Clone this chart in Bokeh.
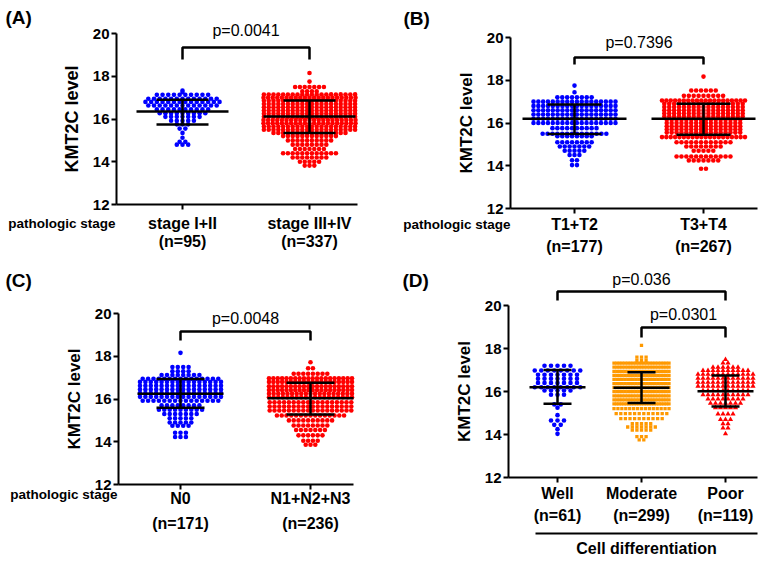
from bokeh.plotting import figure
from bokeh.models import Range1d, FixedTicker, LinearAxis
from bokeh.layouts import row, column
from bokeh.embed import file_html
from bokeh.resources import INLINE
from bokeh.core.properties import value

FONT = "Liberation Sans"
BLUE = "#0000FF"
RED = "#FF0000"
ORANGE = "#FF9900"

y_ticks = [12, 14, 16, 18, 20]

# ---------------- Panel A ----------------
a_labels = ["stage I+II", "stage III+IV"]
a_n = [95, 337]
a1_levels = [17.33, 17.25, 17.13, 16.95, 16.8, 16.63, 16.45, 16.27, 16.1, 15.92, 15.75, 15.55, 15.35, 15.12, 14.93, 14.8]
a1_counts = [1, 1, 10, 13, 14, 13, 10, 9, 7, 5, 3, 2, 1, 1, 2, 3]
a2_levels = [18.15, 17.75, 17.5, 17.3, 17.15, 17.0, 16.85, 16.7, 16.55, 16.4, 16.25, 16.1, 15.95, 15.8, 15.65, 15.5, 15.35, 15.2, 15.0, 14.8, 14.6, 14.4, 14.2, 14.0, 13.82]
a2_counts = [1, 1, 7, 4, 20, 21, 20, 20, 20, 20, 20, 20, 21, 21, 20, 20, 16, 12, 10, 8, 7, 12, 8, 5, 3]
a_mean = [16.35, 16.12]
a_sd_hi = [16.9, 16.87]
a_sd_lo = [15.74, 15.34]
a_pvals = ["p=0.0041"]

# ---------------- Panel B ----------------
b_labels = ["T1+T2", "T3+T4"]
b_n = [177, 267]
b1_levels = [17.75, 17.44, 17.2, 17.0, 16.8, 16.6, 16.4, 16.2, 16.0, 15.76, 15.5, 15.38, 15.1, 14.9, 14.7, 14.5, 14.26, 14.03]
b1_counts = [1, 1, 8, 18, 18, 18, 18, 18, 18, 10, 14, 8, 8, 7, 5, 3, 2, 2]
b2_levels = [18.17, 17.52, 17.27, 17.05, 16.9, 16.75, 16.6, 16.45, 16.3, 16.15, 16.0, 15.85, 15.7, 15.55, 15.34, 15.1, 14.9, 14.7, 14.43, 14.25, 13.86]
b2_counts = [1, 6, 9, 20, 17, 17, 17, 17, 17, 16, 16, 16, 16, 16, 20, 12, 8, 5, 12, 7, 2]
b_mean = [16.2, 16.2]
b_sd_hi = [16.87, 16.9]
b_sd_lo = [15.49, 15.45]
b_pvals = ["p=0.7396"]

# ---------------- Panel C ----------------
c_labels = ["N0", "N1+N2+N3"]
c_n = [171, 236]
c1_levels = [18.16, 17.5, 17.3, 17.12, 16.95, 16.8, 16.62, 16.45, 16.28, 16.1, 15.92, 15.7, 15.5, 15.3, 15.1, 14.9, 14.75, 14.42, 14.22]
c1_counts = [1, 4, 4, 8, 15, 16, 16, 16, 16, 16, 15, 8, 9, 7, 5, 5, 4, 3, 3]
c2_levels = [17.72, 17.44, 17.18, 16.97, 16.8, 16.6, 16.42, 16.25, 16.08, 15.85, 15.65, 15.46, 15.23, 15.0, 14.76, 14.55, 14.3, 14.05, 13.86]
c2_counts = [1, 2, 8, 20, 20, 20, 20, 19, 19, 18, 18, 18, 15, 10, 8, 7, 6, 4, 3]
c_mean = [16.24, 16.04]
c_sd_hi = [16.94, 16.76]
c_sd_lo = [15.59, 15.27]
c_pvals = ["p=0.0048"]

# ---------------- Panel D ----------------
d_labels = ["Well", "Moderate", "Poor"]
d_n = [61, 299, 119]
d1_levels = [17.2, 16.98, 16.78, 16.59, 16.4, 16.2, 16.05, 15.85, 15.4, 15.25, 14.9, 14.65, 14.45, 14.25, 14.03]
d1_counts = [5, 8, 7, 7, 7, 8, 5, 3, 2, 1, 1, 3, 2, 1, 1]
d2_levels = [18.15, 17.6, 17.45, 17.32, 17.13, 16.94, 16.75, 16.56, 16.37, 16.18, 15.99, 15.8, 15.61, 15.42,
             15.2, 14.97, 14.74, 14.5, 14.35, 14.2, 13.9, 13.75]
d2_counts = [1, 3, 3, 21, 21, 21, 21, 21, 21, 21, 21, 21, 21, 23, 15, 12, 10, 5, 7, 5, 3, 2]
d3_levels = [17.49, 17.33, 17.13, 16.98, 16.8, 16.62, 16.43, 16.25, 16.05, 15.85, 15.65, 15.45, 15.25, 14.95, 14.7, 14.5, 14.3, 14.03]
d3_counts = [1, 2, 6, 10, 12, 12, 12, 12, 10, 10, 8, 7, 5, 4, 3, 2, 2, 1]
d_mean = [16.2, 16.17, 16.01]
d_sd_hi = [17.0, 16.9, 16.74]
d_sd_lo = [15.43, 15.46, 15.3]
d_pvals = ["p=0.036", "p=0.0301"]
d_axis_title = "Cell differentiation"


def make_panel(tag, labels, ns, groups, means, hi, lo, pvals, brackets, L):
    w, h = L["w"], L["h"]
    xppu = L["x_ppu"]
    yppu = (L["y12"] - L["y20"]) / 8.0
    x0 = 1 - (L["x_first"] - L["px0"]) / xppu
    y1 = 20 + (L["y20"] - L["py0"]) / yppu

    def X(px):
        return x0 + (px - L["px0"]) / xppu

    def Y(py):
        return y1 - (py - L["py0"]) / yppu

    p = figure(width=w, height=h, x_range=Range1d(x0, x0 + w / xppu),
               y_range=Range1d(y1 - h / yppu, y1), output_backend="svg",
               toolbar_location=None, x_axis_type=None, y_axis_type=None,
               min_border=0)
    p.outline_line_color = None
    p.background_fill_color = "white"

    k = len(labels)
    yax = LinearAxis(fixed_location=X(L["axis_x"]), bounds=(12, 20),
                     ticker=FixedTicker(ticks=y_ticks))
    yax.axis_label = "KMT2C level"
    yax.axis_label_text_font = FONT
    yax.axis_label_text_font_style = "bold"
    yax.axis_label_text_color = "black"
    yax.axis_label_text_font_size = L["ylab_size"]
    yax.axis_label_standoff = L["ylab_standoff"]
    yax.major_label_text_font = FONT
    yax.major_label_text_font_style = "bold"
    yax.major_label_text_color = "black"
    yax.major_label_text_font_size = "15px"
    yax.major_label_standoff = 2
    yax.major_tick_in = 0
    yax.major_tick_out = 5
    yax.minor_tick_line_color = None
    yax.axis_line_width = 2
    yax.major_tick_line_width = 2
    yax.axis_line_color = "black"
    yax.major_tick_line_color = "black"
    p.add_layout(yax, "left")

    xax = LinearAxis(fixed_location=12, bounds=(X(L["axis_x"]), X(L["x_right"])),
                     ticker=FixedTicker(ticks=list(range(1, k + 1))))
    xax.major_label_overrides = {i + 1: f"{labels[i]}\n(n={ns[i]})" for i in range(k)}
    xax.major_label_text_font = FONT
    xax.major_label_text_font_style = "bold"
    xax.major_label_text_color = "black"
    xax.major_label_text_font_size = "16px"
    xax.major_label_text_line_height = L["xlab_lh"]
    xax.major_label_standoff = L["xlab_standoff"]
    xax.major_tick_in = 0
    xax.major_tick_out = 5
    xax.minor_tick_line_color = None
    xax.axis_line_width = 2
    xax.major_tick_line_width = 2
    xax.axis_line_color = "black"
    xax.major_tick_line_color = "black"
    p.add_layout(xax, "below")

    # swarm dots
    for gi, (levels, counts, color, marker, size, step, maxw) in enumerate(groups):
        gx = gi + 1
        xs, ys = [], []
        for lv, c in zip(levels, counts):
            s = min(step, maxw / (c - 1)) if c > 1 else 0
            for i in range(c):
                xs.append(gx + (i - (c - 1) / 2.0) * s / xppu)
                ys.append(lv)
        p.scatter(x=xs, y=ys, marker=marker, size=size, fill_color=color,
                  line_color=None)

    # mean and SD
    hm = L["mean_hw"] / xppu
    hc = L["cap_hw"] / xppu
    gxs = list(range(1, k + 1))
    p.segment(x0=[g - hm for g in gxs], y0=means, x1=[g + hm for g in gxs], y1=means,
              line_color="black", line_width=2.5)
    p.segment(x0=[g - hc for g in gxs] * 2, y0=hi + lo, x1=[g + hc for g in gxs] * 2,
              y1=hi + lo, line_color="black", line_width=2.5)
    p.segment(x0=gxs, y0=lo, x1=gxs, y1=hi, line_color="black", line_width=2.5)

    # brackets and p values
    for (ga, gb, top_py, leg_py, txt_py), ptxt in zip(brackets, pvals):
        p.line(x=[ga, ga, gb, gb], y=[Y(leg_py), Y(top_py), Y(top_py), Y(leg_py)],
               line_color="black", line_width=2.5)
        p.text(x=[(ga + gb) / 2.0], y=[Y(txt_py)], text=[ptxt], text_align="center",
               text_baseline="middle", text_font=value(FONT), text_font_size="16px",
               text_color="black")

    # panel tag
    p.text(x=[X(L["tag_px"])], y=[Y(L["tag_py"])], text=[tag], text_align="left",
           text_baseline="middle", text_font=value(FONT), text_font_style="bold",
           text_font_size="19px", text_color="black")
    if L.get("stage_py") is not None:
        p.text(x=[X(L["stage_px"])], y=[Y(L["stage_py"])], text=["pathologic stage"],
               text_align="right", text_baseline="middle", text_font=value(FONT),
               text_font_style="bold", text_font_size="13.5px", text_color="black")
    return p, X, Y


LA = dict(w=388, h=270, px0=0, py0=0, x_first=182, x_ppu=127, y20=33, y12=204,
          axis_x=116, x_right=357, ylab_size="18px", ylab_standoff=8,
          xlab_lh=1.1, xlab_standoff=5, mean_hw=46, cap_hw=26,
          tag_px=5, tag_py=17, stage_px=115, stage_py=223)
LB = dict(w=387, h=270, px0=388, py0=0, x_first=574, x_ppu=129, y20=37, y12=208,
          axis_x=510, x_right=757, ylab_size="17px", ylab_standoff=8,
          xlab_lh=1.3, xlab_standoff=2, mean_hw=52, cap_hw=27,
          tag_px=403, tag_py=18, stage_px=510, stage_py=224)
LC = dict(w=388, h=291, px0=0, py0=270, x_first=180, x_ppu=130, y20=313, y12=484,
          axis_x=118, x_right=353, ylab_size="17px", ylab_standoff=8,
          xlab_lh=1.5, xlab_standoff=0, mean_hw=43, cap_hw=24,
          tag_px=5, tag_py=280, stage_px=117, stage_py=494)
LD = dict(w=387, h=291, px0=388, py0=270, x_first=557, x_ppu=84, y20=305, y12=477,
          axis_x=508, x_right=757, ylab_size="17px", ylab_standoff=8,
          xlab_lh=1.3, xlab_standoff=2, mean_hw=28, cap_hw=14,
          tag_px=402, tag_py=280, stage_py=None)

pA, _, _ = make_panel("(A)", a_labels, a_n,
                      [(a1_levels, a1_counts, BLUE, "circle", 4.6, 5.7, 76),
                       (a2_levels, a2_counts, RED, "circle", 4.6, 4.8, 92)],
                      a_mean, a_sd_hi, a_sd_lo, a_pvals, [(1, 2, 47, 59, 30)], LA)
pB, _, _ = make_panel("(B)", b_labels, b_n,
                      [(b1_levels, b1_counts, BLUE, "circle", 4.6, 4.9, 82),
                       (b2_levels, b2_counts, RED, "circle", 4.6, 4.9, 83)],
                      b_mean, b_sd_hi, b_sd_lo, b_pvals, [(1, 2, 57, 64, 42)], LB)
pC, _, _ = make_panel("(C)", c_labels, c_n,
                      [(c1_levels, c1_counts, BLUE, "circle", 4.6, 5.4, 81),
                       (c2_levels, c2_counts, RED, "circle", 4.6, 4.8, 83)],
                      c_mean, c_sd_hi, c_sd_lo, c_pvals, [(1, 2, 331, 340, 318)], LC)
pD, XD, YD = make_panel("(D)", d_labels, d_n,
                        [(d1_levels, d1_counts, BLUE, "circle", 4.6, 6.5, 55),
                         (d2_levels, d2_counts, ORANGE, "square", 3.3, 4.6, 55),
                         (d3_levels, d3_counts, RED, "triangle", 5.2, 5.0, 55)],
                        d_mean, d_sd_hi, d_sd_lo, d_pvals,
                        [(1, 3, 291, 300, 279), (2, 3, 327, 337, 314)], LD)
pD.segment(x0=[XD(535)], y0=[YD(533)], x1=[XD(757)], y1=[YD(533)],
           line_color="black", line_width=2)
pD.text(x=[XD(646)], y=[YD(548)], text=[d_axis_title], text_align="center",
        text_baseline="middle", text_font=value(FONT), text_font_style="bold",
        text_font_size="16px", text_color="black")

layout = column(row(pA, pB), row(pC, pD))
open("out.html", "w").write(file_html(layout, INLINE))
